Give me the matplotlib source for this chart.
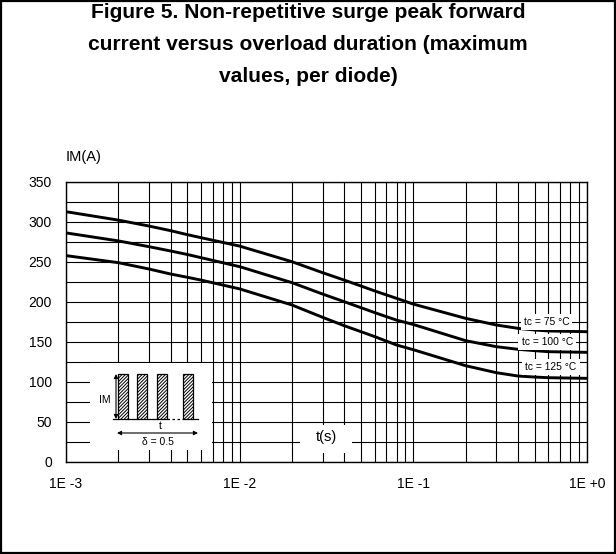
import matplotlib.pyplot as plt
from matplotlib.patches import Rectangle, FancyArrowPatch

plt.rcParams['font.family'] = ['Liberation Sans', 'DejaVu Sans']
plt.rcParams['hatch.linewidth'] = 0.7

# overload duration (s) and peak current (A) per case temperature
t = [1e-3, 2e-3, 3e-3, 4e-3, 5e-3, 6e-3, 1e-2, 2e-2, 3e-2, 4e-2, 5e-2, 6e-2, 8e-2,
     1e-1, 2e-1, 3e-1, 4e-1, 5e-1, 6e-1, 1.0]
im_75 = [312.5, 302, 294.6, 288.8, 283.8, 280, 269.5, 250, 236.3, 227, 219.6, 213.4, 204.2,
         197, 179.2, 170.9, 166.7, 164.6, 163.4, 162.5]
im_100 = [286, 276, 268.8, 263.4, 259, 255, 243.8, 223.8, 209.6, 200, 192.5, 186.3, 177,
          171.5, 151.3, 143.8, 140.5, 138.8, 137.5, 136.7]
im_125 = [257.6, 248.8, 240.9, 234.6, 230.5, 227, 216, 195.9, 180.5, 170, 162.5, 156.3, 145.9,
          140, 120, 111.3, 107.1, 105.8, 105, 104.2]
curve_labels = ['tc = 75 °C', 'tc = 100 °C', 'tc = 125 °C']
label_pos = [(0.585, 174.5), (0.59, 149.2), (0.62, 118.3)]

x_ticks = [1e-3, 1e-2, 1e-1, 1.0]
x_ticklabels = ['1E -3', '1E -2', '1E -1', '1E +0']
y_ticks = [0, 50, 100, 150, 200, 250, 300, 350]

W, H = 616, 554
fig = plt.figure(figsize=(W / 100, H / 100), dpi=100)

# outer frame
fig.patches.append(Rectangle((0.002, 0.002), 0.996, 0.996, transform=fig.transFigure,
                             fill=False, edgecolor='black', linewidth=1.6))

title_lines = ['Figure 5. Non-repetitive surge peak forward',
               'current versus overload duration (maximum',
               'values, per diode)']
for line, yb in zip(title_lines, [18.3, 50, 81.7]):
    fig.text(0.5, 1 - yb / H, line, ha='center', va='baseline',
             fontsize=15.1, fontweight='bold')

ax = fig.add_axes([66 / W, 1 - 461.7 / H, 521 / W, 280 / H])
ax.set_xscale('log')
ax.set_xlim(1e-3, 1.0)
ax.set_ylim(0, 350)

for vals in (im_75, im_100, im_125):
    ax.plot(t, vals, color='black', linewidth=2.1, zorder=3)

ax.set_xticks(x_ticks)
ax.set_xticklabels(x_ticklabels)
ax.set_yticks(y_ticks)
ax.set_yticks(range(25, 350, 50), minor=True)
ax.tick_params(which='both', length=0, labelsize=10)
ax.tick_params(axis='x', pad=11)
ax.tick_params(axis='y', pad=10)
ax.grid(True, which='both', color='black', linewidth=0.8)
for s in ax.spines.values():
    s.set_linewidth(1.0)

for lab, (xl, yl) in zip(curve_labels, label_pos):
    ax.text(xl, yl, lab, ha='center', va='center', fontsize=7.4, zorder=4,
            bbox=dict(facecolor='white', edgecolor='none', pad=2.2))

fig.text(66 / W, 1 - 157 / H, 'IM(A)', ha='left', va='center', fontsize=10.5)

# t(s) label box inside the grid
fig.patches.append(Rectangle((300 / W, 1 - 453 / H), 52 / W, 28 / H, transform=fig.transFigure,
                             facecolor='white', edgecolor='none', zorder=5))
fig.text(326 / W, 1 - 437 / H, 't(s)', ha='center', va='center', fontsize=10.5, zorder=6)

# pulse train inset
ins = fig.add_axes([90 / W, 1 - 450 / H, 122 / W, 87 / H])
ins.set_xlim(0, 122)
ins.set_ylim(87, 0)
ins.set_facecolor('white')
for s in ins.spines.values():
    s.set_visible(False)
ins.set_xticks([])
ins.set_yticks([])

base, top = 56, 11
pulses = [28.3, 47.3, 66.7, 93.3]
for px in pulses:
    ins.add_patch(Rectangle((px, top), 10, base - top, facecolor='white',
                            edgecolor='black', hatch='//////////', linewidth=0.9))
ins.plot([22.7, 28.3], [base, base], color='black', lw=0.9)
for a, b in zip(pulses[:-1], pulses[1:]):
    if b - a < 20:
        ins.plot([a + 10, b], [base, base], color='black', lw=0.9)
ins.plot([76.7, 93.3], [base, base], color='black', lw=0.9, linestyle=(0, (2, 2)))
ins.plot([103.3, 108.3], [base, base], color='black', lw=0.9)

ins.add_patch(FancyArrowPatch((26, top), (26, base), arrowstyle='<|-|>', mutation_scale=6,
                              color='black', lw=0.8, shrinkA=0, shrinkB=0))
ins.text(15, 37, 'IM', ha='center', va='center', fontsize=7.5)
ins.add_patch(FancyArrowPatch((27, 70), (108, 70), arrowstyle='<|-|>', mutation_scale=6,
                              color='black', lw=0.8, shrinkA=0, shrinkB=0))
ins.text(70, 63, 't', ha='center', va='center', fontsize=7.5)
ins.text(68, 79, 'δ = 0.5', ha='center', va='center', fontsize=7.5)

fig.savefig('out.png', dpi=100)
